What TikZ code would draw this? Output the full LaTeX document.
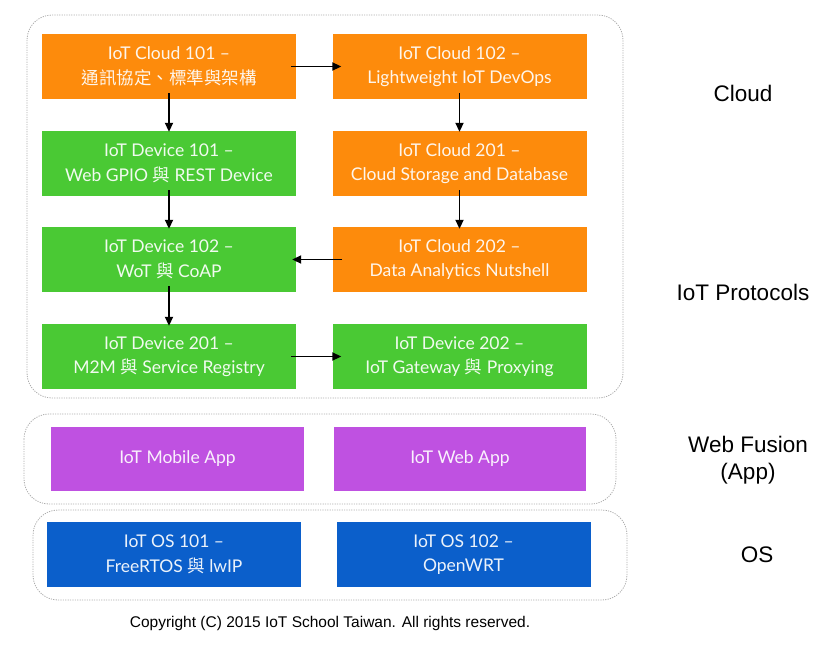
\documentclass[tikz,border=0pt]{standalone}
\usepackage{fontspec}
\setmainfont{Lato}
\newfontfamily\cjk{Noto Sans CJK TC}
\newfontfamily\helv{Liberation Sans}
\usetikzlibrary{arrows.meta}
\definecolor{iotorange}{HTML}{FD8B0C}
\definecolor{iotgreen}{HTML}{4AC934}
\definecolor{iotpurple}{HTML}{BF51E1}
\definecolor{iotblue}{HTML}{0B5FCB}
\tikzset{
  course/.style={rectangle, minimum width=254pt, minimum height=65pt, inner sep=0pt,
    text=white, text opacity=0.92, align=center, font=\fontsize{17.5}{24.5}\selectfont},
  orangebox/.style={course, fill=iotorange},
  greenbox/.style={course, fill=iotgreen},
  purplebox/.style={course, fill=iotpurple},
  bluebox/.style={course, fill=iotblue},
  group/.style={draw=gray!65, line width=0.8pt, dash pattern=on 1.2pt off 1.2pt, rounded corners=25pt},
  flow/.style={-{Triangle[length=9pt,width=8pt]}, line width=1.9pt, black},
  layer/.style={font=\helv\fontsize{22.5}{27}\selectfont, align=center, text=black}
}
\begin{document}
\begin{tikzpicture}[x=1pt,y=-1pt]
\useasboundingbox (0,0) rectangle (833,651);
% groups
\draw[group] (27,15) rectangle (623,398);
\draw[group] (24,414) rectangle (616,504);
\draw[group] (33,510) rectangle (627,600);
% boxes
\node[orangebox] (c101) at (169,66.5) {IoT Cloud 101 –\\{\cjk 通訊協定、標準與架構}};
\node[orangebox] (c102) at (459.5,66.5) {IoT Cloud 102 –\\Lightweight IoT DevOps};
\node[greenbox] (d101) at (169,163.5) {IoT Device 101 –\\Web GPIO {\cjk 與} REST Device};
\node[orangebox] (c201) at (459.5,163.5) {IoT Cloud 201 –\\Cloud Storage and Database};
\node[greenbox] (d102) at (169,259.5) {IoT Device 102 –\\WoT {\cjk 與} CoAP};
\node[orangebox] (c202) at (459.5,259.5) {IoT Cloud 202 –\\Data Analytics Nutshell};
\node[greenbox] (d201) at (169,356.5) {IoT Device 201 –\\M2M {\cjk 與} Service Registry};
\node[greenbox] (d202) at (459.5,356.5) {IoT Device 202 –\\IoT Gateway {\cjk 與} Proxying};
\node[purplebox, minimum width=253pt, minimum height=64pt] (mob) at (177.5,459) {IoT Mobile App};
\node[purplebox, minimum width=252pt, minimum height=64pt] (web) at (460,459) {IoT Web App};
\node[bluebox] (os1) at (174,554.5) {IoT OS 101 –\\FreeRTOS {\cjk 與} lwIP};
\node[bluebox] (os2) at (463.5,554.5) {IoT OS 102 –\\OpenWRT};
% arrows
\draw[flow, shorten <=-5pt, shorten >=-9pt] (c101.east) -- (c102.west);
\draw[flow, shorten <=-6pt, shorten >=-1pt] (c101.south) -- (d101.north);
\draw[flow, shorten <=-6pt, shorten >=-1pt] (c102.south) -- (c201.north);
\draw[flow, shorten <=-6pt, shorten >=-2pt] (d101.south) -- (d102.north);
\draw[flow, shorten <=-6pt, shorten >=-2pt] (c201.south) -- (c202.north);
\draw[flow, shorten <=-10pt, shorten >=-4pt] (c202.west) -- (d102.east);
\draw[flow, shorten <=-6pt, shorten >=-2pt] (d102.south) -- (d201.north);
\draw[flow, shorten <=-5pt, shorten >=-9pt] (d201.east) -- (d202.west);
% layer labels
\node[layer] (lcloud) at (743,93) {Cloud};
\node[layer] (lproto) at (743,292) {IoT Protocols};
\node[layer] (lweb) at (748,460) {Web Fusion\\(App)};
\node[layer] (los) at (757,555) {OS};
\node[font=\helv\fontsize{15.5}{18}\selectfont] (copy) at (330,623) {Copyright (C) 2015 IoT School Taiwan. All rights reserved.};
\end{tikzpicture}
\end{document}
